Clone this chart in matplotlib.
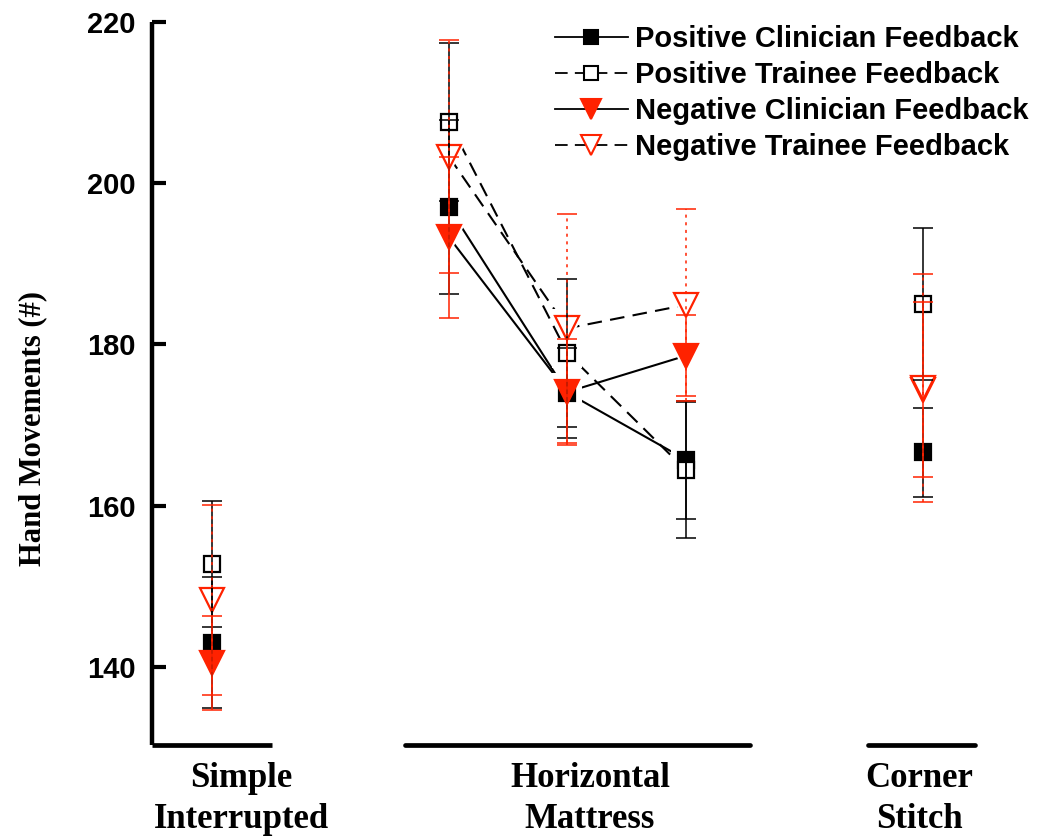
import matplotlib
matplotlib.use("Agg")
import matplotlib.pyplot as plt
from matplotlib.lines import Line2D
import numpy as np

# Suture types and the x position of each measurement
categories = ["Simple\nInterrupted", "Horizontal\nMattress", "Corner\nStitch"]
x_pos = [1, 3, 4, 5, 7]          # SI, HM (three sessions), CS
hm_idx = [1, 2, 3]               # points joined by lines

pos_clin = [143.0, 197.0, 174.0, 165.7, 166.6]
pos_clin_err = [8.1, 10.8, 5.6, 7.3, 5.5]
pos_train = [152.8, 207.6, 178.9, 164.4, 185.0]
pos_train_err = [7.8, 9.8, 9.2, 8.4, 9.4]
neg_clin = [140.5, 193.3, 174.1, 178.6, 174.4]
neg_clin_err = [5.8, 10.0, 6.6, 5.0, 10.9]
neg_train = [148.3, 203.3, 182.0, 184.9, 174.6]
neg_train_err = [11.8, 14.5, 14.2, 11.9, 14.1]

labels = ["Positive Clinician Feedback", "Positive Trainee Feedback",
          "Negative Clinician Feedback", "Negative Trainee Feedback"]

RED = "#FF2200"

W, H = 1039, 840
fig = plt.figure(figsize=(W / 100, H / 100), dpi=100)
ax = fig.add_axes([152 / W, 1 - 745 / H, (975 - 152) / W, (745 - 22) / H])
ax.set_xlim(0.494, 7.44)
ax.set_ylim(130.3, 220)

DASH = (0, (7, 4))
series = [
    dict(y=pos_clin, e=pos_clin_err, marker="s", face="black", edge="black",
         ls="-", ms=12, ecol="black", els="-"),
    dict(y=pos_train, e=pos_train_err, marker="s", face="white", edge="black",
         ls=DASH, ms=12, ecol="black", els="-"),
    dict(y=neg_clin, e=neg_clin_err, marker="v", face=RED, edge=RED,
         ls="-", ms=17, ecol=RED, els="-"),
    dict(y=neg_train, e=neg_train_err, marker="v", face="white", edge=RED,
         ls=DASH, ms=17, ecol=RED, els=(0, (2, 3))),
]

xs = np.array(x_pos, dtype=float)

# connecting lines across the horizontal mattress sessions
for s in series:
    ys = np.array(s["y"])
    ax.plot(xs[hm_idx], ys[hm_idx], color="black", lw=1.5, ls=s["ls"], zorder=1)

# white halo so the lines stop short of each marker
for s in series:
    ax.plot(xs, s["y"], ls="none", marker=s["marker"], ms=s["ms"] + 10,
            mfc="white", mec="white", mew=0, zorder=2)

for i, s in enumerate(series):
    ax.plot(xs, s["y"], ls="none", marker=s["marker"], ms=s["ms"],
            mfc=s["face"], mec=s["edge"], mew=1.6, zorder=3 + i * 0.1)

# error bars on top of the markers
for s in series:
    eb = ax.errorbar(xs, s["y"], yerr=s["e"], fmt="none", ecolor=s["ecol"],
                     elinewidth=1.1, capsize=7, capthick=1.1, zorder=5)
    for lc in eb[2]:
        lc.set_linestyle(s["els"])

# axes styling
for side in ("top", "right", "bottom"):
    ax.spines[side].set_visible(False)
ax.spines["left"].set_linewidth(3.2)
ax.spines["left"].set_capstyle("butt")
ax.set_yticks([140, 160, 180, 200, 220])
ax.tick_params(axis="y", direction="in", length=10, width=3, pad=12,
               labelsize=21)
for t in ax.get_yticklabels():
    t.set_fontweight("bold")
    t.set_fontfamily("Liberation Sans")
ax.set_xticks([])

# broken baseline, one piece per suture type
btrans = ax.get_xaxis_transform()
for x0, x1 in [(0.494, 1.506), (2.63, 5.54), (6.54, 7.44)]:
    ax.plot([x0, x1], [0, 0], color="black", lw=3.4, transform=btrans,
            clip_on=False, solid_capstyle="round" if x0 > 1 else "butt",
            zorder=6)

for lab, xc in zip(categories, [1.245, 4.19, 6.97]):
    ax.text(xc, -0.024, lab, transform=btrans, ha="center", va="top",
            fontsize=25, fontweight="bold", family="Liberation Serif",
            linespacing=1.32)

fig.text(33 / W, 1 - 428 / H, "Hand Movements (#)", rotation=90,
         ha="center", va="center", fontsize=22, fontweight="bold",
         family="Liberation Serif")

# legend
handles = []
for s in series:
    handles.append(Line2D([], [], color="black", lw=1.3, ls=s["ls"],
                          marker=s["marker"], ms=s["ms"] - 2,
                          mfc=s["face"], mec=s["edge"], mew=1.5))
leg = ax.legend(handles, labels, loc="upper right", frameon=False,
                bbox_to_anchor=(1.097, 1.032), handlelength=2.5,
                handletextpad=0.25, labelspacing=0.27,
                prop=dict(family="Liberation Sans", weight="bold", size=21))

fig.savefig("out.png", dpi=100)
